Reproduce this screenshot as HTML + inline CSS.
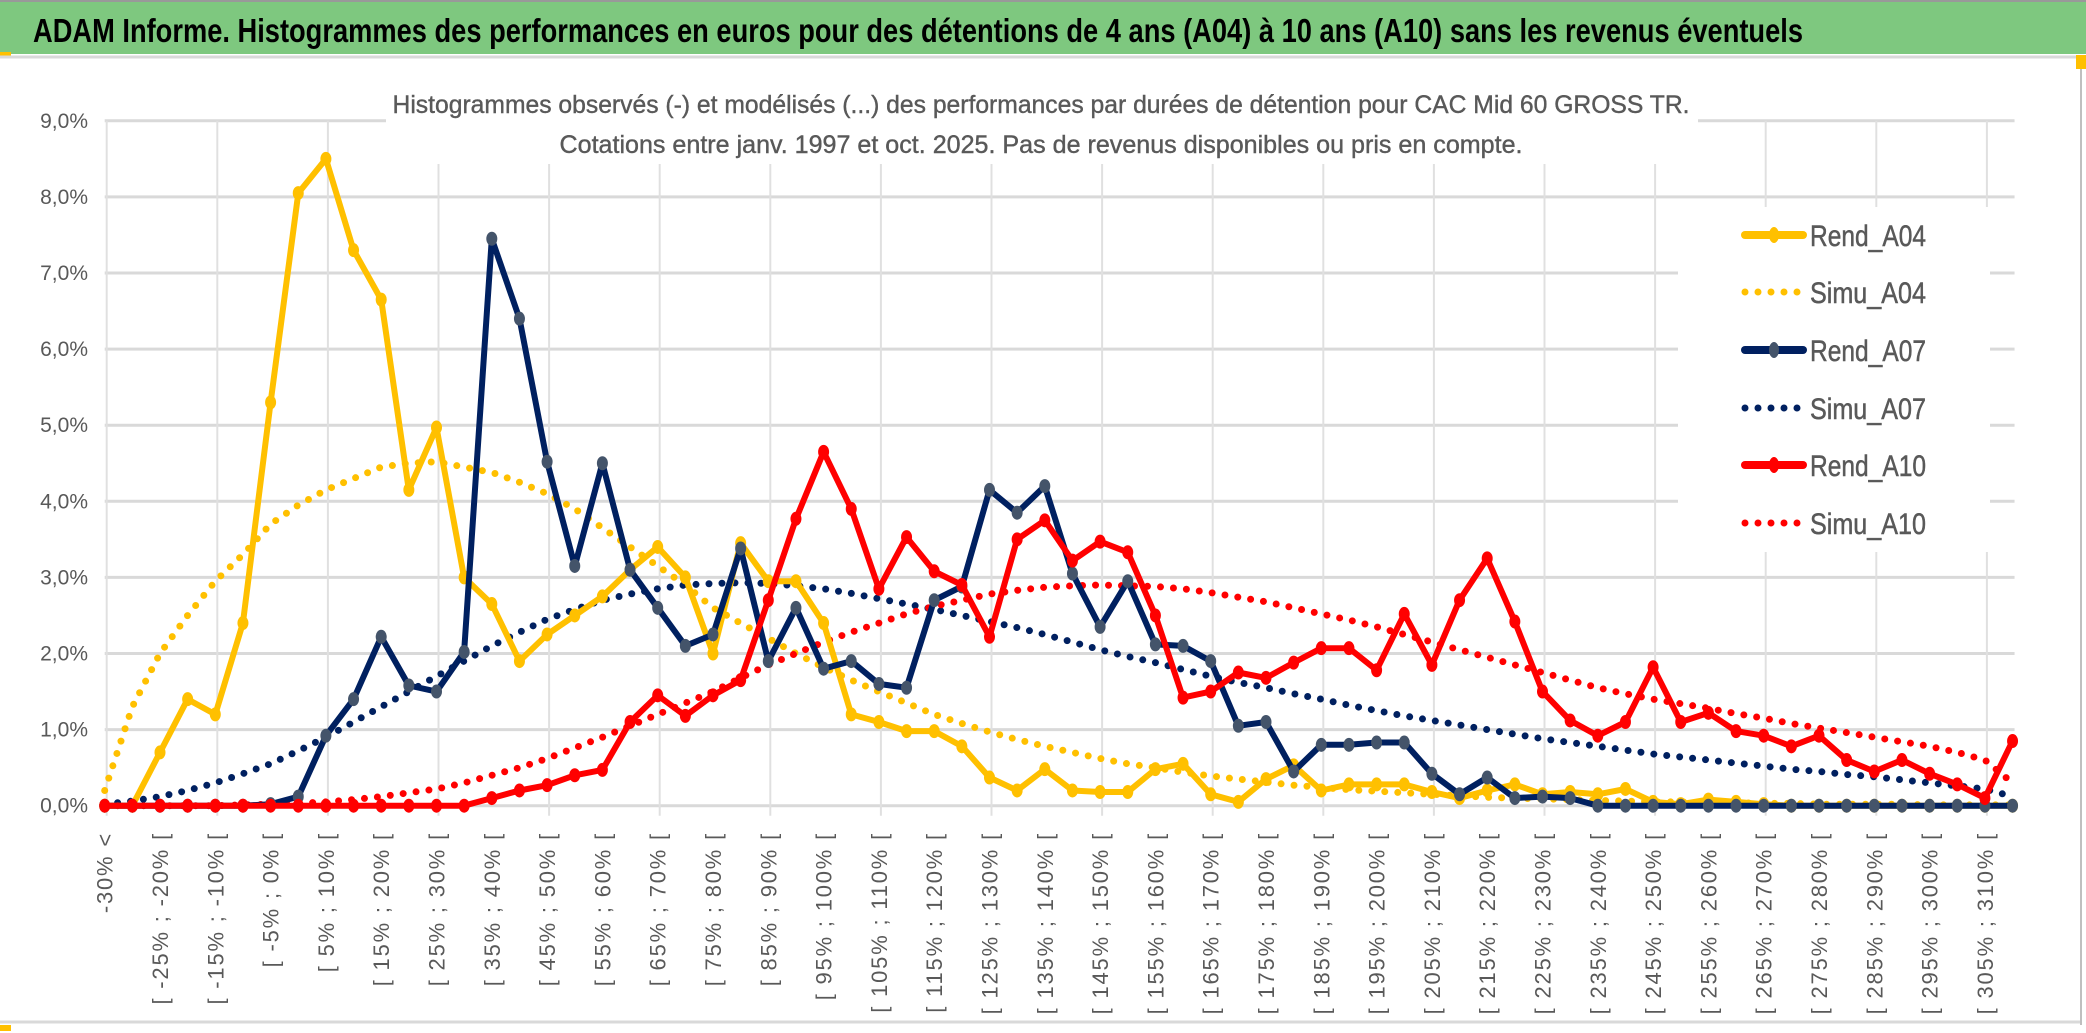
<!DOCTYPE html>
<html><head><meta charset="utf-8"><style>
html,body{margin:0;padding:0;background:#fff;}
svg{display:block;font-family:"Liberation Sans",sans-serif;}
</style></head><body>
<svg id="chart" width="2086" height="1033" viewBox="0 0 2086 1033" xmlns="http://www.w3.org/2000/svg">
<rect x="0" y="0" width="2086" height="1033" fill="#fff"/>
<rect x="0" y="2" width="2086" height="52" fill="#7ec87f"/>
<line x1="0" y1="1" x2="2086" y2="1" stroke="#999" stroke-width="2"/>
<rect x="0" y="52" width="11" height="4" fill="#ffc000"/>
<line x1="0" y1="57" x2="2080" y2="57" stroke="#d9d9d9" stroke-width="3"/>
<line x1="2081" y1="57" x2="2081" y2="1025" stroke="#bfbfbf" stroke-width="2"/>
<line x1="0" y1="1022" x2="2080" y2="1022" stroke="#d9d9d9" stroke-width="3"/>
<rect x="0" y="1025" width="11" height="6" fill="#ffc000"/>
<rect x="2076" y="55" width="10" height="14" fill="#ffc000"/>
<text x="33" y="42" font-size="33" font-weight="bold" fill="#000" textLength="1770" lengthAdjust="spacingAndGlyphs">ADAM Informe. Histogrammes des performances en euros pour des détentions de 4 ans (A04) à 10 ans (A10) sans les revenus éventuels</text>
<g id="grid"></g>
<rect x="386" y="60" width="1312" height="104" fill="#fff"/>
<text x="1041" y="113" font-size="25" fill="#595959" stroke="#595959" stroke-width="0.4" text-anchor="middle" textLength="1297" lengthAdjust="spacingAndGlyphs">Histogrammes observés (-) et modélisés (...) des performances par durées de détention pour CAC Mid 60 GROSS TR.</text>
<text x="1041" y="153" font-size="25" fill="#595959" stroke="#595959" stroke-width="0.4" text-anchor="middle" textLength="963" lengthAdjust="spacingAndGlyphs">Cotations entre janv. 1997 et oct. 2025. Pas de revenus disponibles ou pris en compte.</text>
<rect x="1678" y="207" width="312" height="345" fill="#fff"/>
<g id="axes"></g>
<g id="series"></g>
<g id="legend"></g>
</svg>
<script>
const categories = ["-30% <"];
for (let k = 1; k < 70; k++) categories.push("[ " + (-35 + 5 * k) + "% ; " + (-30 + 5 * k) + "% [");
const yTicks = [0,1,2,3,4,5,6,7,8,9];
const rendA04 = [0,0,0.7,1.4,1.2,2.4,5.3,8.05,8.5,7.3,6.65,4.15,4.97,3.0,2.65,1.9,2.25,2.5,2.75,3.1,3.4,3.0,2.0,3.45,2.95,2.95,2.4,1.2,1.1,0.98,0.98,0.78,0.37,0.2,0.48,0.2,0.18,0.18,0.48,0.55,0.15,0.05,0.35,0.53,0.2,0.28,0.28,0.28,0.18,0.1,0.2,0.28,0.15,0.18,0.15,0.22,0.05,0.02,0.08,0.05,0.02,0,0,0,0,0,0,0,0,0];
const simuA04 = [0.2,1.3,2.0,2.5,2.95,3.3,3.7,3.95,4.15,4.3,4.45,4.5,4.52,4.45,4.38,4.25,4.1,3.9,3.65,3.4,3.15,2.9,2.6,2.4,2.2,2.0,1.82,1.65,1.5,1.35,1.2,1.08,0.97,0.87,0.78,0.7,0.62,0.55,0.5,0.44,0.39,0.35,0.31,0.27,0.24,0.21,0.19,0.17,0.15,0.13,0.11,0.1,0.09,0.08,0.07,0.06,0.05,0.05,0.04,0.04,0.03,0.03,0.02,0.02,0.02,0.02,0.01,0.01,0.01,0.01];
const rendA07 = [0,0,0,0,0,0,0.02,0.12,0.92,1.4,2.22,1.58,1.5,2.02,7.45,6.4,4.52,3.15,4.5,3.1,2.6,2.1,2.25,3.38,1.9,2.6,1.8,1.9,1.6,1.55,2.7,2.88,4.15,3.85,4.2,3.05,2.35,2.95,2.12,2.1,1.9,1.05,1.1,0.45,0.8,0.8,0.83,0.83,0.42,0.15,0.37,0.1,0.12,0.1,0,0,0,0,0,0,0,0,0,0,0,0,0,0,0,0];
const simuA07 = [0.02,0.06,0.12,0.2,0.3,0.42,0.55,0.72,0.9,1.1,1.3,1.5,1.7,1.9,2.1,2.28,2.45,2.58,2.7,2.78,2.85,2.9,2.92,2.93,2.92,2.89,2.85,2.79,2.72,2.65,2.58,2.5,2.42,2.34,2.25,2.15,2.05,1.96,1.88,1.79,1.7,1.62,1.55,1.47,1.4,1.32,1.25,1.18,1.12,1.06,1.0,0.94,0.88,0.83,0.78,0.73,0.68,0.64,0.6,0.56,0.52,0.48,0.45,0.41,0.38,0.34,0.3,0.26,0.22,0.12];
const rendA10 = [0,0,0,0,0,0,0,0,0,0,0,0,0,0,0.1,0.2,0.27,0.4,0.47,1.1,1.45,1.18,1.45,1.65,2.7,3.77,4.65,3.9,2.85,3.53,3.08,2.9,2.22,3.5,3.75,3.22,3.47,3.33,2.5,1.42,1.5,1.75,1.68,1.88,2.07,2.07,1.78,2.52,1.85,2.7,3.25,2.42,1.5,1.12,0.92,1.1,1.82,1.1,1.22,0.98,0.92,0.78,0.92,0.6,0.45,0.6,0.42,0.28,0.1,0.85];
const simuA10 = [0,0,0,0,0,0.01,0.02,0.03,0.05,0.08,0.12,0.17,0.22,0.3,0.4,0.5,0.62,0.76,0.9,1.05,1.2,1.35,1.5,1.68,1.85,2.0,2.15,2.28,2.4,2.52,2.62,2.7,2.78,2.83,2.87,2.89,2.9,2.89,2.88,2.85,2.8,2.74,2.68,2.6,2.52,2.44,2.35,2.25,2.15,2.05,1.95,1.85,1.75,1.65,1.55,1.47,1.4,1.34,1.28,1.21,1.15,1.08,1.02,0.96,0.9,0.84,0.78,0.7,0.6,0.3];

const NS = "http://www.w3.org/2000/svg";
const X0 = 104.7, DX = 27.65, Y0 = 805.7, PERPCT = 76.1;
function xs(i){ return X0 + DX * i; }
function ys(v){ return Y0 - v * PERPCT; }
function mk(tag, attrs, parent){ const e = document.createElementNS(NS, tag); for (const k in attrs) e.setAttribute(k, attrs[k]); parent.appendChild(e); return e; }

const grid = document.getElementById('grid');
const axes = document.getElementById('axes');
yTicks.forEach(t => {
  const l = mk('line', {x1: xs(0), x2: xs(categories.length - 1) + 2, y1: ys(t), y2: ys(t), stroke: '#d9d9d9', 'stroke-width': 3}, grid);
  
  
  const lab = mk('text', {x: 88, y: ys(t) + 7, 'font-size': 21, fill: '#595959', 'text-anchor': 'end'}, axes);
  
  
  lab.textContent = t.toFixed(1).replace('.', ',') + '%';
});
for (let i = 0; i < categories.length; i += 4) {
  const v = mk('line', {x1: xs(i) + 2, x2: xs(i) + 2, y1: ys(9), y2: Y0 + 10, stroke: '#e0e0e0', 'stroke-width': 2}, grid);
  
  
}
for (let i = 0; i < categories.length; i += 2) {
  const tx = xs(i) + 8, ty = 832;
  const lab = mk('text', {x: tx, y: ty, 'font-size': 22, fill: '#595959', 'text-anchor': 'end', 'letter-spacing': '1.8', transform: 'rotate(-90 ' + tx + ' ' + ty + ')'}, axes);
  
  
  lab.textContent = categories[i];
}

const series = document.getElementById('series');
const defs = [
  {name: 'Rend_A04', data: rendA04, color: '#ffc000', marker: '#ffc000', dotted: false},
  {name: 'Simu_A04', data: simuA04, color: '#ffc000', dotted: true},
  {name: 'Rend_A07', data: rendA07, color: '#002060', marker: '#44546a', dotted: false},
  {name: 'Simu_A07', data: simuA07, color: '#002060', dotted: true},
  {name: 'Rend_A10', data: rendA10, color: '#ff0000', marker: '#ff0000', dotted: false},
  {name: 'Simu_A10', data: simuA10, color: '#ff0000', dotted: true}
];
const order = [1, 3, 5, 0, 2, 4];
order.forEach(si => {
  const s = defs[si];
  const pts = s.data.map((v, i) => xs(i).toFixed(1) + ',' + ys(v).toFixed(1)).join(' ');
  const g = mk('g', {}, series);
  
  
  const pl = mk('polyline', {points: pts, fill: 'none', stroke: s.color, 'stroke-width': s.dotted ? 7 : 6, 'stroke-linejoin': 'round', 'stroke-linecap': 'round'}, g);
  if (s.dotted) pl.setAttribute('stroke-dasharray', '0 13');
  
  
  if (!s.dotted) {
    s.data.forEach((v, i) => {
      const c = mk('ellipse', {cx: xs(i), cy: ys(v), rx: 5.5, ry: 7, fill: s.marker}, g);
      
      
    });
  }
});

const legend = document.getElementById('legend');
const legY = [235, 292, 350, 408, 465, 523];
defs.forEach((s, k) => {
  const g = mk('g', {}, legend);
  
  
  const y = legY[k];
  const l = mk('line', {x1: 1745, x2: 1803, y1: y, y2: y, stroke: s.color, 'stroke-width': s.dotted ? 7 : 8, 'stroke-linecap': 'round'}, g);
  if (s.dotted) l.setAttribute('stroke-dasharray', '0 13');
  if (!s.dotted) mk('ellipse', {cx: 1774, cy: y, rx: 5, ry: 8, fill: s.marker}, g);
  const t = mk('text', {x: 1810, y: y + 11, 'font-size': 30, fill: '#595959', stroke: '#595959', 'stroke-width': 0.5, textLength: 116, lengthAdjust: 'spacingAndGlyphs'}, g);
  
  
  t.textContent = s.name;
});
</script>
</body></html>
